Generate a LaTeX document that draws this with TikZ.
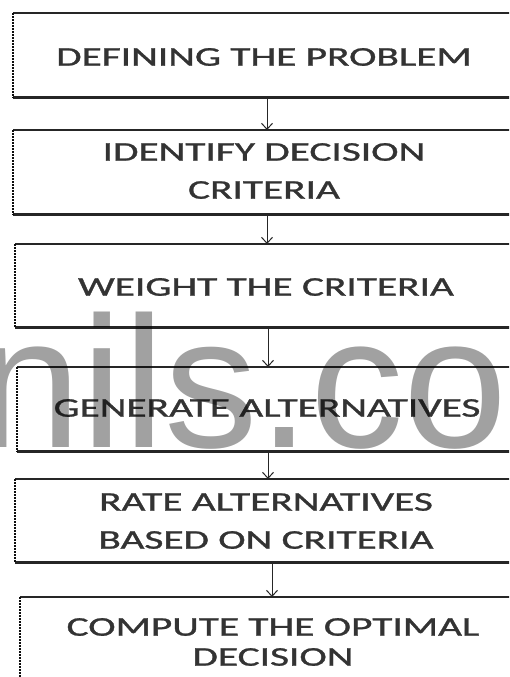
\documentclass[tikz,border=0pt]{standalone}
\usepackage{fontspec}
\usepackage{graphicx}
\setmainfont{Carlito}
\newfontfamily\stepfont{Carlito}[FakeBold=0.9]
\newfontfamily\markfont{Liberation Sans}
\usetikzlibrary{arrows.meta,calc}
% step labels are set in a widened sans
\newcommand\widetxt[1]{\scalebox{1.53}[1]{#1}}

\begin{document}
\begin{tikzpicture}[x=1pt,y=-1pt,
  boxshape/.style={rectangle, inner sep=0pt, anchor=north west, minimum width=560pt},
  rule/.style={draw=black!85, line width=2.2pt},
  leftrule/.style={draw=black!95, line width=2.2pt, dash pattern=on 1.6pt off 1.4pt},
  steptext/.style={font=\stepfont\fontsize{27}{38}\selectfont, text=black!80, align=center, inner sep=0pt},
  link/.style={draw=black!85, line width=1pt, -{Straight Barb[length=6pt,width=11pt]}},
  wmark/.style={font=\markfont\fontsize{187}{187}\selectfont, text=black, text opacity=0.37, inner sep=0pt, anchor=base west}
]
\useasboundingbox (0,0) rectangle (509,677);
\fill[white] (0,0) rectangle (509,677);
\clip (0,0) rectangle (509,677);

% the six process boxes (open to the right)
\node[boxshape, minimum height=84pt] (b1) at (13,13) {};
\node[boxshape, minimum height=84pt] (b2) at (13,130) {};
\node[boxshape, minimum height=83pt] (b3) at (15,244) {};
\node[boxshape, minimum height=84pt] (b4) at (17,367) {};
\node[boxshape, minimum height=83pt] (b5) at (15,479) {};
\node[boxshape, minimum height=100pt] (b6) at (20,597) {};

\foreach \b in {b1,b2,b3,b4,b5,b6}{
  \draw[rule] (\b.north west) -- (\b.north east);
  \draw[rule] (\b.south west) -- (\b.south east);
  \draw[leftrule] (\b.north west) -- (\b.south west);
}

% labels
\node[steptext] (t1) at (264,57) {\widetxt{DEFINING THE PROBLEM}};
\node[steptext] (t2) at (264,171) {\widetxt{IDENTIFY DECISION}\\\widetxt{CRITERIA}};
\node[steptext] (t3) at (266,287) {\widetxt{WEIGHT THE CRITERIA}};
\node[steptext] (t4) at (267,408) {\widetxt{GENERATE ALTERNATIVES}};
\node[steptext] (t5) at (266,521) {\widetxt{RATE ALTERNATIVES}\\\widetxt{BASED ON CRITERIA}};
\node[steptext, font=\stepfont\fontsize{27}{30}\selectfont] (t6) at (273,642) {\widetxt{COMPUTE THE OPTIMAL}\\\widetxt{DECISION}};

% connectors
\coordinate (a1) at (267,0);
\coordinate (a2) at (267,0);
\coordinate (a3) at (268,0);
\coordinate (a4) at (268,0);
\coordinate (a5) at (272,0);
\draw[link] (b1.south -| a1) -- (b2.north -| a1);
\draw[link] (b2.south -| a2) -- (b3.north -| a2);
\draw[link] (b3.south -| a3) -- (b4.north -| a3);
\draw[link] (b4.south -| a4) -- (b5.north -| a4);
\draw[link] (b5.south -| a5) -- (b6.north -| a5);

% overlaid mark
\node[wmark] (wm) at (-22.5,447) {nils.co};
\end{tikzpicture}
\end{document}
